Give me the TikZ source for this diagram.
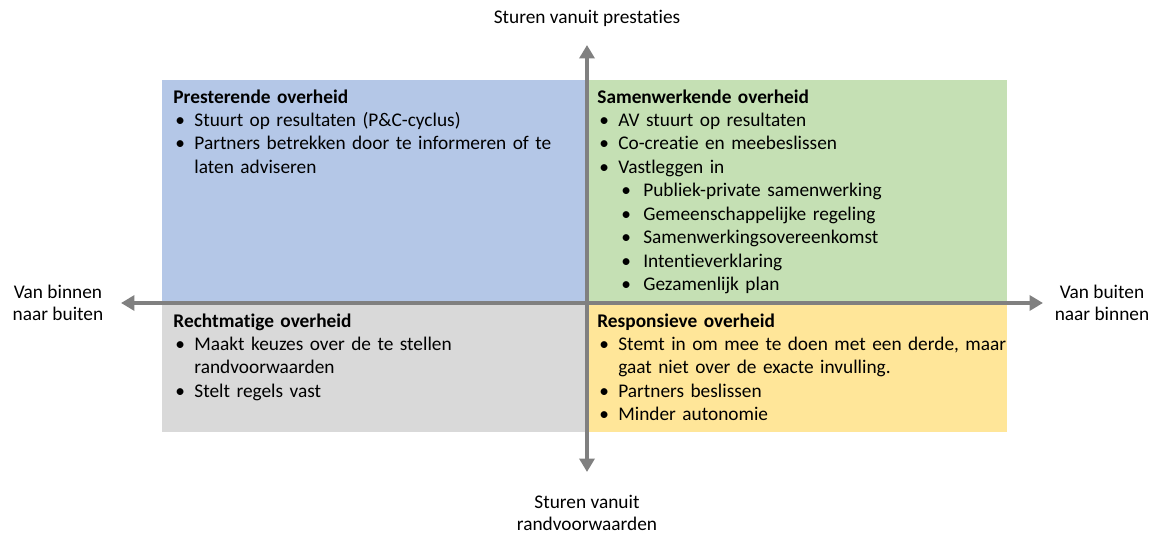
\documentclass[tikz,border=0pt]{standalone}
\usepackage{fontspec}
\setmainfont{Carlito}[Ligatures=NoCommon]
\usepackage{tikz}
\usetikzlibrary{arrows.meta, positioning}

\definecolor{qblue}{RGB}{180,199,231}
\definecolor{qgreen}{RGB}{197,224,180}
\definecolor{qgray}{RGB}{217,217,217}
\definecolor{qyellow}{RGB}{255,230,153}
\definecolor{axisgray}{RGB}{128,128,128}

\newcommand{\bul}[1]{\par\noindent\makebox[0.42cm][l]{\hspace{0.04cm}\textbullet}#1}
\newcommand{\cont}[1]{\par\noindent\hspace{0.42cm}#1}
\newcommand{\subbul}[1]{\par\noindent\hspace{0.48cm}\makebox[0.44cm][l]{\textbullet}#1}

\begin{document}
\begin{tikzpicture}
		[x=0.02cm, y=-0.02cm,
		quad/.style = {rectangle, inner sep=0pt, outer sep=0pt, minimum width=8.5cm},
		quadr/.style = {rectangle, inner sep=0pt, outer sep=0pt, minimum width=8.4cm},
		txt/.style = {anchor=base west, inner sep=0pt, text width=9cm, align=left, font=\fontsize{11pt}{13.35pt}\selectfont},
		lbl/.style = {align=center, inner sep=0pt, font=\fontsize{11pt}{12.6pt}\selectfont},
		axis/.style = {draw=axisgray, line width=2.3pt, {Triangle[width=0.3cm,length=0.27cm]}-{Triangle[width=0.3cm,length=0.27cm]}}]

		\useasboundingbox (0,0) rectangle (1162,533);

		% quadrants
		\node[quad, fill=qblue, minimum height=4.46cm, anchor=south east] (pres) at (587,303) {};
		\node[quadr, fill=qgreen, minimum height=4.46cm, anchor=south west] (samen) at (587,303) {};
		\node[quad, fill=qgray, minimum height=2.58cm, anchor=north east] (recht) at (587,303) {};
		\node[quadr, fill=qyellow, minimum height=2.58cm, anchor=north west] (resp) at (587,303) {};

		% axes
		\coordinate (west) at (121,303);
		\coordinate (east) at (1043,303);
		\coordinate (north) at (587,45);
		\coordinate (south) at (587,472);
		\draw[axis] (west) -- (east);
		\draw[axis] (south) -- (north);

		\node[lbl] (top) at (587,18) {Sturen vanuit prestaties};
		\node[lbl] (bottom) at (587,513) {Sturen vanuit\\randvoorwaarden};
		\node[lbl] (left) at (58,303) {Van binnen\\naar buiten};
		\node[lbl] (right) at (1102,303) {Van buiten\\naar binnen};

		% quadrant texts
		\node[txt] (presT) at ([shift={(11,23)}]pres.north west) {\textbf{Presterende overheid}
			\bul{Stuurt op resultaten (P\&C-cyclus)}
			\bul{Partners betrekken door te informeren of te}
			\cont{laten adviseren}};
		\node[txt] (samenT) at ([shift={(10,23)}]samen.north west) {\textbf{Samenwerkende overheid}
			\bul{AV stuurt op resultaten}
			\bul{Co-creatie en meebeslissen}
			\bul{Vastleggen in}
			\subbul{Publiek-private samenwerking}
			\subbul{Gemeenschappelijke regeling}
			\subbul{Samenwerkingsovereenkomst}
			\subbul{Intentieverklaring}
			\subbul{Gezamenlijk plan}};
		\node[txt] (rechtT) at ([shift={(11,24)}]recht.north west) {\textbf{Rechtmatige overheid}
			\bul{Maakt keuzes over de te stellen}
			\cont{randvoorwaarden}
			\bul{Stelt regels vast}};
		\node[txt] (respT) at ([shift={(10,24)}]resp.north west) {\textbf{Responsieve overheid}
			\bul{Stemt in om mee te doen met een derde, maar}
			\cont{gaat niet over de exacte invulling.}
			\bul{Partners beslissen}
			\bul{Minder autonomie}};
	\end{tikzpicture}
\end{document}
